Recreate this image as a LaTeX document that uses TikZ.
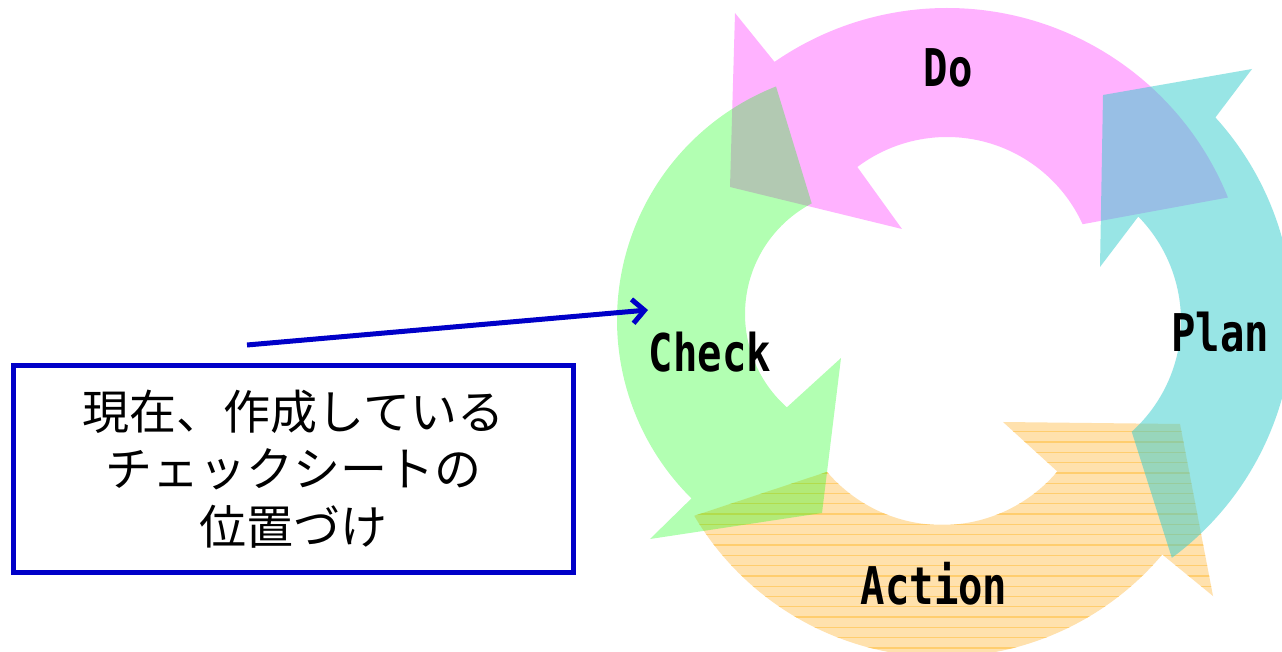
\documentclass[tikz,border=0pt]{standalone}
\usepackage{fontspec}
\usetikzlibrary{calc,arrows.meta}
\newfontfamily\labfont[FakeStretch=0.78]{DejaVu Sans Mono}
\newfontfamily\jpfont{Noto Sans CJK JP}
\definecolor{dobase}{RGB}{255,0,255}
\definecolor{checkbase}{RGB}{0,255,0}
\definecolor{planbase}{RGB}{51,204,204}
\definecolor{actbase}{RGB}{255,180,50}
\definecolor{actline}{RGB}{255,205,110}
\definecolor{boxblue}{RGB}{0,0,200}
\tikzset{
  dofill/.style={fill=dobase, fill opacity=0.3},
  checkfill/.style={fill=checkbase, fill opacity=0.3},
  planfill/.style={fill=planbase, fill opacity=0.5},
  actfill/.style={fill=actbase, fill opacity=0.4},
  cyclelabel/.style={font=\labfont\bfseries\fontsize{52}{60}\selectfont, inner sep=0pt, anchor=base},
  notebox/.style={draw=boxblue, line width=5.5pt, fill=white, minimum width=560pt, minimum height=207pt, inner sep=0pt, align=center, font=\jpfont\fontsize{47}{57.5}\selectfont},
  pointer/.style={draw=boxblue, line width=5pt, -{Straight Barb[length=12pt,width=24pt]}}
}
\begin{document}
\begin{tikzpicture}[x=1pt,y=1pt]
\clip (0,0) rectangle (1282,651);
\fill[white] (0,0) rectangle (1282,651);
\coordinate (pinkO) at (947,340);
\coordinate (pinkI) at (947,365);
\coordinate (greenO) at (868,331);
\coordinate (greenI) at (870,337);
\coordinate (orO) at (942,282);
\coordinate (orI) at (942,277);
\coordinate (cyO) at (995,333);
\coordinate (cyI) at (1032,330);
% Do (pink)
\fill[dofill] ($(pinkI)+(24.5:149pt)$) -- ($(pinkO)+(22:303pt)$)
  arc[start angle=22, end angle=124.7, radius=303pt]
  -- (735,638) -- (730,464) -- (902,422)
  -- ($(pinkI)+(127:149pt)$) arc[start angle=127, end angle=24.5, radius=149pt] -- cycle;
% Action (orange)
\def\actpath{($(orO)+(210.65:288pt)$) arc[start angle=210.65, end angle=319.9, radius=288pt]
  -- (1213,55) -- (1180,227) -- (1003,229)
  -- ($(orI)+(319.8:151pt)$) arc[start angle=319.8, end angle=220.4, radius=151pt] -- cycle}
\fill[actfill] \actpath;
\begin{scope}
  \clip \actpath;
  \foreach \k in {-2,...,23} {
    \draw[actline, line width=1.3pt] (600,219.3-10.3*\k) -- (1282,219.3-10.3*\k);
  }
\end{scope}
% Check (green)
\fill[checkfill] ($(greenO)+(111.5:251pt)$)
  arc[start angle=111.5, end angle=225.3, radius=251pt]
  -- (650,112) -- (822,138) -- (841,293)
  -- ($(greenI)+(228.3:125pt)$) arc[start angle=228.3, end angle=117.8, radius=125pt] -- cycle;
% Plan (cyan)
\fill[planfill] ($(cyO)+(306.4:298pt)$)
  arc[start angle=306.4, end angle=402.3, radius=298pt]
  -- (1252,582) -- (1103,556) -- (1100,384)
  -- ($(cyI)+(44.5:149pt)$) arc[start angle=44.5, end angle=-48, radius=149pt] -- cycle;
% labels
\node[cyclelabel] (do) at (948,564) {Do};
\node[cyclelabel] (check) at (710,279) {Check};
\node[cyclelabel] (plan) at (1220,299) {Plan};
\node[cyclelabel] (action) at (934,47) {Action};
% note box and pointer
\node[notebox] (note) at (293.5,182) {現在、作成している\\チェックシートの\\位置づけ};
\coordinate (pstart) at (247,306);
\coordinate (pend) at (648,341);
\draw[pointer] (pstart) -- (pend);
\end{tikzpicture}
\end{document}
